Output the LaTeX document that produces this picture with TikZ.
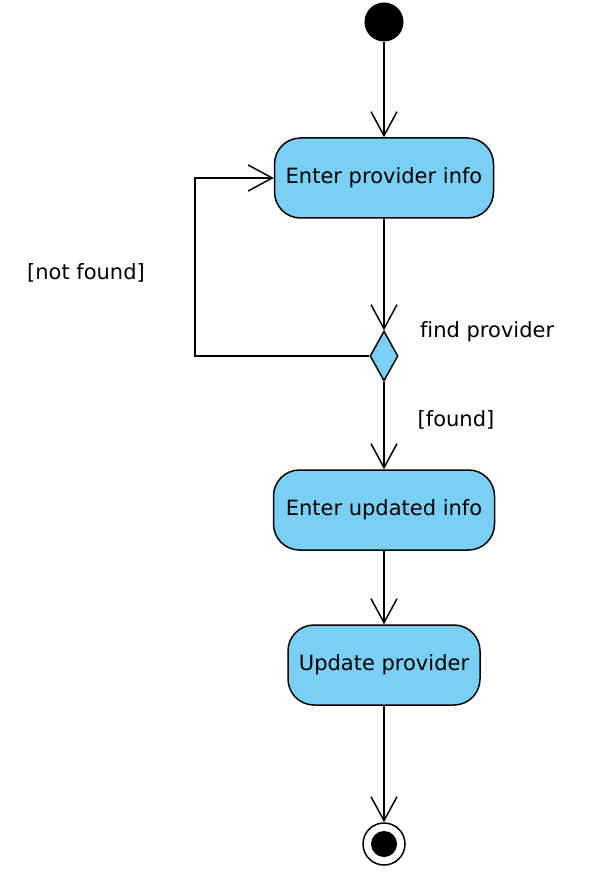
\documentclass[tikz,border=0pt]{standalone}
\usepackage{fontspec}
\setmainfont{DejaVu Sans}[Ligatures=NoCommon]
\usetikzlibrary{shapes.geometric,arrows.meta}
\definecolor{actblue}{RGB}{122,207,245}

\begin{document}
\begin{tikzpicture}[x=1pt,y=-1pt,line width=1.5pt,
        font=\fontsize{21}{25}\selectfont,
        >={Straight Barb[length=24pt,width=26pt,line width=1.5pt]},
        action/.style={draw, fill=actblue, rounded corners=26pt, minimum height=80pt, inner sep=0pt}]
        \useasboundingbox (0,0) rectangle (604,874);
        \node[circle, fill=black, minimum size=39pt, inner sep=0pt] (start) at (384,22) {};
        \node[action, minimum width=219pt] (provinfo) at (384,178) {Enter provider info};
        \node[diamond, draw, fill=actblue, minimum width=28pt, minimum height=50pt, inner sep=0pt] (find) at (384,356) {};
        \node[action, minimum width=221pt] (updinfo) at (384,510) {Enter updated info};
        \node[action, minimum width=192pt] (update) at (384,665) {Update provider};
        \node[circle, draw, minimum size=42pt, inner sep=0pt] (stop) at (384,844) {};
        \node[circle, fill=black, minimum size=26pt, inner sep=0pt] (stopdot) at (stop) {};
        \coordinate (loop) at (195,356);
        \draw[->] (start) -- (provinfo.north);
        \draw[->] (provinfo.south) -- (find.north);
        \draw[->] (find.west) -- (loop) |- (provinfo.west);
        \draw[->] (find.south) -- (updinfo.north);
        \draw[->] (updinfo.south) -- (update.north);
        \draw[->] (update.south) -- (stop.north);
        \node[right] (findlbl) at (416,332) {find provider};
        \node (notfound) at (86,273) {[not found]};
        \node (found) at (456,420) {[found]};
    \end{tikzpicture}
\end{document}
